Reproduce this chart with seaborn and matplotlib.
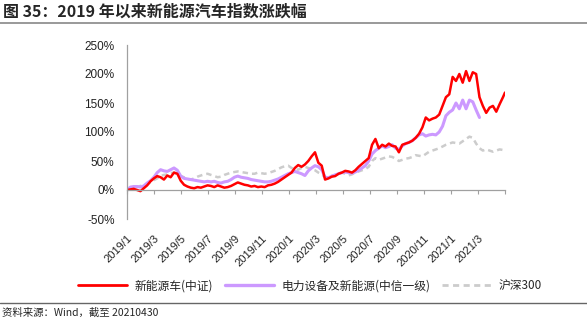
import matplotlib
matplotlib.use("Agg")
import matplotlib.pyplot as plt
from matplotlib.lines import Line2D
import numpy as np
import pandas as pd
import seaborn as sns

# ---- data (trading-day index, cumulative change in %) ----
days = list(range(0, 561, 5)) + [563]

red_vals = [0, 1, 2, 0, -2, 3, 8, 15, 20, 24, 22, 18, 25, 22, 30, 28, 16, 9, 6, 4,
            3, 5, 4, 6, 8, 7, 5, 8, 6, 4, 5, 7, 10, 13, 11, 9, 8, 6, 7, 5,
            6, 5, 8, 9, 11, 14, 18, 22, 26, 30, 38, 43, 40, 44, 50, 58, 65, 47, 42, 18,
            20, 23, 24, 28, 30, 33, 32, 30, 34, 40, 45, 50, 55, 78, 88, 72, 78, 75, 80, 76,
            75, 65, 78, 80, 82, 85, 90, 97, 108, 125, 120, 123, 125, 130, 145, 160, 165, 195, 188, 200,
            185, 205, 188, 203, 200, 160, 145, 133, 142, 145, 135, 148, 160, 168]

purple_vals = [0, 5, 6, 6, 5, 7, 12, 16, 22, 30, 35, 33, 32, 35, 38, 34, 24, 20, 19, 18,
               17, 16, 15, 14, 15, 14, 15, 13, 12, 14, 15, 18, 22, 24, 22, 21, 20, 18, 17, 16,
               15, 14, 14, 15, 17, 19, 22, 25, 28, 30, 32, 30, 28, 25, 33, 38, 42, 40, 35, 22,
               21, 24, 26, 28, 30, 31, 30, 29, 31, 34, 38, 42, 50, 62, 68, 72, 76, 73, 75, 78,
               72, 70, 76, 80, 82, 85, 90, 95, 97, 93, 95, 96, 95, 100, 110, 128, 134, 138, 150, 140,
               155, 140, 155, 152, 138, 125] + [np.nan] * 8

gray_vals = [0, 2, 4, 5, 7, 8, 10, 13, 17, 20, 24, 26, 27, 29, 30, 28, 24, 22, 19, 18,
             20, 23, 25, 27, 28, 26, 24, 22, 23, 26, 28, 30, 31, 32, 31, 30, 29, 28, 28, 30,
             29, 28, 29, 31, 33, 36, 39, 41, 42, 38, 36, 35, 38, 40, 38, 36, 34, 30, 27, 22,
             22, 24, 26, 28, 30, 28, 25, 27, 30, 32, 34, 36, 40, 50, 55, 52, 54, 56, 58, 57,
             54, 50, 52, 54, 55, 57, 60, 59, 58, 62, 66, 68, 70, 72, 75, 78, 80, 82, 81, 80,
             84, 88, 92, 90, 80, 72, 68, 70, 68, 66, 68, 70, 69, 71]

tick_labels = ["2019/1", "2019/3", "2019/5", "2019/7", "2019/9", "2019/11", "2020/1",
               "2020/3", "2020/5", "2020/7", "2020/9", "2020/11", "2021/1", "2021/3"]

series_names = ["新能源车(中证)", "电力设备及新能源(中信一级)", "沪深300"]

df = pd.DataFrame({"day": days,
                   series_names[0]: red_vals,
                   series_names[1]: purple_vals,
                   series_names[2]: gray_vals})
long = df.melt(id_vars="day", var_name="series", value_name="pct").dropna()

# ---- style ----
sns.set_style("white")
plt.rcParams["font.family"] = ["Liberation Sans", "Noto Sans CJK SC", "DejaVu Sans"]

fig = plt.figure(figsize=(5.87, 3.33), dpi=100)
ax = fig.add_axes([127 / 587, 1 - 219 / 333, (505 - 127) / 587, (219 - 45) / 333])

RED = "#FF0000"
PURPLE = "#CC99FF"
GRAY = "#CCCCCC"

sns.lineplot(data=long[long.series == series_names[2]], x="day", y="pct", ax=ax,
             color=GRAY, lw=1.8, legend=False, linestyle=(0, (2.2, 1.6)))
sns.lineplot(data=long[long.series == series_names[1]], x="day", y="pct", ax=ax,
             color=PURPLE, lw=2.2, legend=False)
sns.lineplot(data=long[long.series == series_names[0]], x="day", y="pct", ax=ax,
             color=RED, lw=1.8, legend=False)

ax.set_xlim(0, 563)
ax.set_ylim(-50, 250)
ax.set_xlabel("")
ax.set_ylabel("")

for s in ["top", "right"]:
    ax.spines[s].set_visible(False)
ax.spines["bottom"].set_position(("data", 0))
ax.spines["bottom"].set_color("#A0A0A0")
ax.spines["bottom"].set_linewidth(0.9)
ax.spines["left"].set_color("#A0A0A0")
ax.spines["left"].set_linewidth(0.9)

ax.tick_params(axis="y", length=0, pad=9)
ax.tick_params(axis="x", length=3, width=0.8, color="#A0A0A0", direction="out", pad=28,
               bottom=True)

yt = [-50, 0, 50, 100, 150, 200, 250]
ax.set_yticks(yt)
ax.set_yticklabels([f"{v}%" for v in yt], fontsize=8.5, color="#222222")

xt = np.linspace(0, 563, 15)
ax.set_xticks(xt)
ax.set_xticklabels(tick_labels + [""], fontsize=8, color="#222222",
                   rotation=45, ha="right", rotation_mode="anchor")

# legend
handles = [Line2D([], [], color=RED, lw=2),
           Line2D([], [], color=PURPLE, lw=2.4),
           Line2D([], [], color=GRAY, lw=2, linestyle=(0, (2.2, 1.6)))]
fig.legend(handles, series_names, loc="center", bbox_to_anchor=(0.528, 1 - 286 / 333),
           ncol=3, frameon=False, handlelength=4.2, handletextpad=0.6, columnspacing=1.0,
           prop={"family": ["Noto Sans CJK SC", "DejaVu Sans"], "size": 8.5})

# title and source
fig.text(0.005, 1 - 12 / 333, "图 35：2019 年以来新能源汽车指数涨跌幅", fontsize=11.5,
         fontweight="bold", family=["Noto Sans CJK SC", "DejaVu Sans"], va="center", ha="left")
fig.add_artist(Line2D([0, 1], [1 - 23 / 333, 1 - 23 / 333], transform=fig.transFigure,
                      color="#888888", lw=1.2))
fig.add_artist(Line2D([0, 1], [1 - 303 / 333, 1 - 303 / 333], transform=fig.transFigure,
                      color="#666666", lw=1.0))
fig.text(0.003, 1 - 313 / 333, "资料来源：Wind，截至 20210430", fontsize=7.5,
         family=["Noto Sans CJK SC", "DejaVu Sans"], va="center", ha="left")

fig.savefig("out.png", dpi=100, facecolor="white")
